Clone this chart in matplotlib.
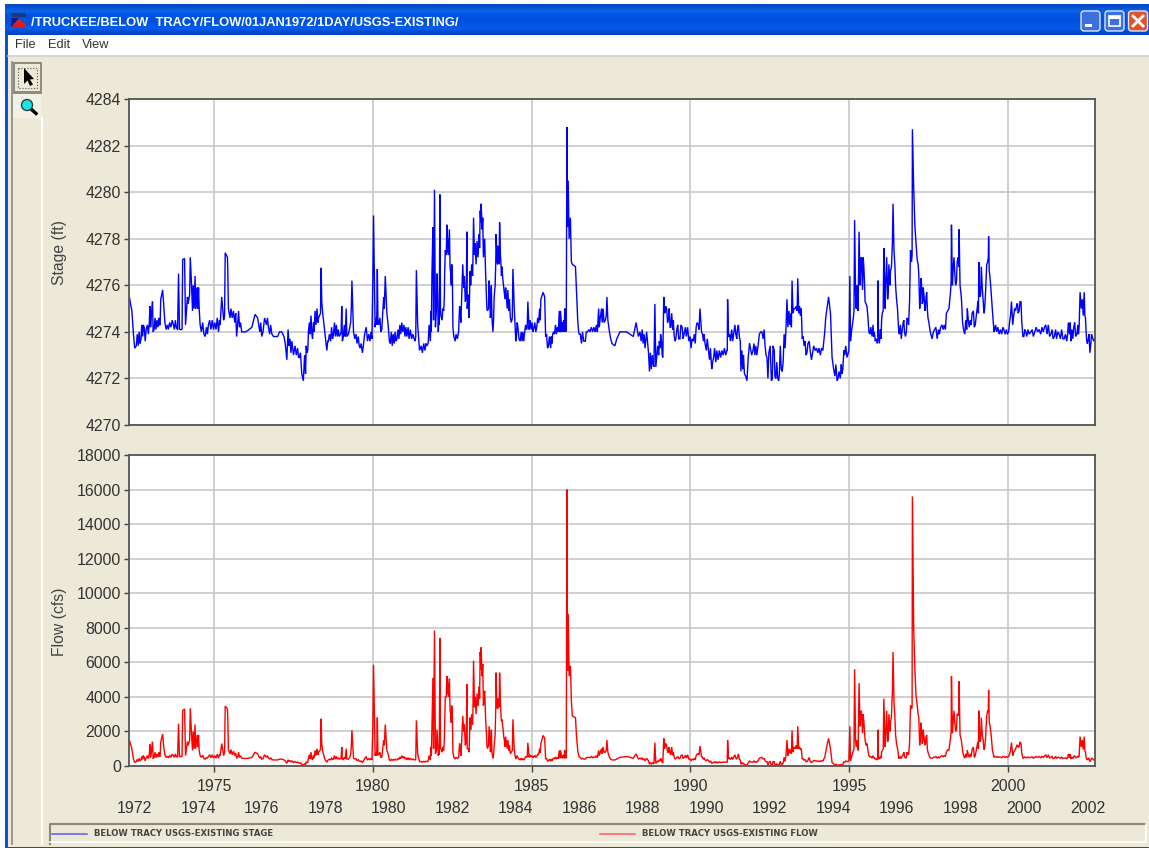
import matplotlib
matplotlib.use('Agg')
import matplotlib.pyplot as plt
import numpy as np
from matplotlib.patches import Rectangle, Circle, FancyBboxPatch, Polygon

plt.rcParams['font.family'] = ['Liberation Sans', 'DejaVu Sans']

title = '/TRUCKEE/BELOW  TRACY/FLOW/01JAN1972/1DAY/USGS-EXISTING/'
menu_items = ['File', 'Edit', 'View']
stage_name = 'BELOW TRACY USGS-EXISTING STAGE'
flow_name = 'BELOW TRACY USGS-EXISTING FLOW'

stage_ticks = [4270, 4272, 4274, 4276, 4278, 4280, 4282, 4284]
flow_ticks = [0, 2000, 4000, 6000, 8000, 10000, 12000, 14000, 16000, 18000]
five_years = [1975, 1980, 1985, 1990, 1995, 2000]
two_years = [1972, 1974, 1976, 1978, 1980, 1982, 1984, 1986, 1988, 1990,
             1992, 1994, 1996, 1998, 2000, 2002]

# one row = same dates in all three lists
years = [
    1972.33, 1972.41, 1972.46, 1972.50, 1972.67, 1972.77, 1972.83, 1972.98, 1973.00, 1973.06,
    1973.11, 1973.30, 1973.32, 1973.38, 1973.42, 1973.49, 1973.72, 1973.88, 1973.91, 1974.01,
    1974.07, 1974.10, 1974.16, 1974.25, 1974.29, 1974.32, 1974.40, 1974.45, 1974.51, 1974.56,
    1974.72, 1974.82, 1975.19, 1975.24, 1975.35, 1975.42, 1975.43, 1975.45, 1975.61, 1975.71,
    1975.77, 1975.87, 1976.19, 1976.29, 1976.37, 1976.50, 1976.59, 1976.71, 1976.87, 1977.13,
    1977.24, 1977.29, 1977.39, 1977.50, 1977.69, 1977.76, 1977.81, 1977.92, 1977.97, 1978.05,
    1978.10, 1978.18, 1978.29, 1978.37, 1978.42, 1978.55, 1978.60, 1978.76, 1979.02, 1979.04,
    1979.23, 1979.34, 1979.39, 1979.60, 1979.67, 1979.79, 1979.83, 1979.97, 1980.00, 1980.02,
    1980.07, 1980.14, 1980.18, 1980.28, 1980.39, 1980.44, 1980.55, 1980.76, 1980.91, 1981.07,
    1981.33, 1981.37, 1981.41, 1981.47, 1981.70, 1981.77, 1981.81, 1981.86, 1981.89, 1981.91,
    1981.94, 1981.97, 1982.02, 1982.06, 1982.11, 1982.14, 1982.23, 1982.28, 1982.33, 1982.36,
    1982.41, 1982.45, 1982.48, 1982.52, 1982.59, 1982.70, 1982.73, 1982.77, 1982.83, 1982.86,
    1982.96, 1983.01, 1983.03, 1983.06, 1983.17, 1983.20, 1983.33, 1983.38, 1983.41, 1983.46,
    1983.48, 1983.52, 1983.55, 1983.61, 1983.66, 1983.70, 1983.73, 1983.78, 1983.82, 1983.88,
    1983.91, 1983.94, 1983.99, 1984.03, 1984.06, 1984.12, 1984.20, 1984.28, 1984.33, 1984.41,
    1984.45, 1984.52, 1984.56, 1984.64, 1984.75, 1984.88, 1984.92, 1985.06, 1985.22, 1985.29,
    1985.36, 1985.41, 1985.44, 1985.53, 1985.64, 1985.69, 1985.90, 1985.91, 1985.95, 1986.03,
    1986.04, 1986.07, 1986.11, 1986.13, 1986.15, 1986.18, 1986.22, 1986.25, 1986.28, 1986.38,
    1986.41, 1986.45, 1986.53, 1986.69, 1986.76, 1987.00, 1987.11, 1987.16, 1987.25, 1987.32,
    1987.37, 1987.45, 1987.53, 1987.62, 1987.68, 1987.78, 1987.99, 1988.20, 1988.29, 1988.36,
    1988.41, 1988.57, 1988.62, 1988.68, 1988.71, 1988.83, 1988.88, 1988.91, 1988.97, 1989.05,
    1989.06, 1989.13, 1989.16, 1989.25, 1989.31, 1989.36, 1989.41, 1989.52, 1989.57, 1989.67,
    1989.74, 1989.80, 1989.91, 1989.99, 1990.02, 1990.09, 1990.18, 1990.25, 1990.30, 1990.35,
    1990.46, 1990.57, 1990.67, 1990.73, 1990.99, 1991.15, 1991.17, 1991.20, 1991.36, 1991.40,
    1991.46, 1991.51, 1991.57, 1991.59, 1991.70, 1991.78, 1991.86, 1991.93, 1992.09, 1992.17,
    1992.25, 1992.35, 1992.41, 1992.44, 1992.51, 1992.55, 1992.64, 1992.69, 1992.78, 1992.83,
    1992.89, 1992.95, 1993.04, 1993.07, 1993.20, 1993.23, 1993.30, 1993.38, 1993.41, 1993.49,
    1993.52, 1993.67, 1993.74, 1993.81, 1993.93, 1994.09, 1994.20, 1994.30, 1994.35, 1994.41,
    1994.46, 1994.51, 1994.62, 1994.77, 1994.83, 1994.93, 1994.99, 1995.02, 1995.04, 1995.10,
    1995.17, 1995.22, 1995.25, 1995.28, 1995.31, 1995.34, 1995.38, 1995.42, 1995.46, 1995.50,
    1995.56, 1995.62, 1995.72, 1995.79, 1995.88, 1995.91, 1995.95, 1996.04, 1996.09, 1996.13,
    1996.18, 1996.21, 1996.25, 1996.28, 1996.33, 1996.38, 1996.41, 1996.46, 1996.52, 1996.56,
    1996.67, 1996.72, 1996.77, 1996.85, 1996.90, 1996.93, 1996.96, 1996.99, 1997.03, 1997.07,
    1997.10, 1997.14, 1997.19, 1997.22, 1997.26, 1997.30, 1997.33, 1997.38, 1997.42, 1997.48,
    1997.54, 1997.61, 1997.69, 1997.77, 1997.88, 1998.03, 1998.06, 1998.14, 1998.19, 1998.22,
    1998.25, 1998.30, 1998.35, 1998.40, 1998.46, 1998.49, 1998.53, 1998.57, 1998.64, 1998.72,
    1998.78, 1998.84, 1998.91, 1998.97, 1999.03, 1999.08, 1999.12, 1999.16, 1999.22, 1999.26,
    1999.33, 1999.39, 1999.43, 1999.47, 1999.51, 1999.56, 1999.61, 1999.72, 1999.87, 1999.98,
    2000.05, 2000.11, 2000.15, 2000.21, 2000.28, 2000.32, 2000.38, 2000.43, 2000.47, 2000.56,
    2000.72, 2000.80, 2000.98, 2001.11, 2001.19, 2001.35, 2001.46, 2001.61, 2001.77, 2001.90,
    2001.98, 2002.10, 2002.17, 2002.24, 2002.27, 2002.31, 2002.34, 2002.40, 2002.44, 2002.48,
    2002.53, 2002.58, 2002.65, 2002.77,
]
stage_ft = [
    4275.5, 4274.9, 4273.9, 4273.3, 4273.5, 4274.3, 4273.6, 4275.1, 4274.2, 4275.3,
    4274.1, 4274.3, 4275.4, 4275.8, 4275.0, 4274.1, 4274.3, 4276.5, 4274.1, 4277.1,
    4277.15, 4274.3, 4275.5, 4277.2, 4276.0, 4274.9, 4276.4, 4275.4, 4275.9, 4274.3,
    4273.8, 4274.3, 4274.3, 4275.5, 4277.4, 4277.2, 4276.7, 4275.0, 4274.9, 4273.8,
    4274.9, 4274.0, 4274.2, 4274.75, 4274.6, 4273.8, 4274.6, 4274.2, 4273.8, 4274.0,
    4273.5, 4272.8, 4273.7, 4273.0, 4272.9, 4272.2, 4271.9, 4273.1, 4274.0, 4274.7,
    4273.7, 4274.9, 4274.6, 4276.75, 4274.8, 4273.2, 4273.6, 4273.9, 4275.1, 4273.6,
    4273.9, 4276.2, 4274.0, 4273.3, 4273.1, 4274.2, 4273.6, 4273.7, 4276.5, 4279.0,
    4274.2, 4276.7, 4274.3, 4274.1, 4276.4, 4274.8, 4273.5, 4273.7, 4274.4, 4273.8,
    4273.6, 4276.65, 4274.3, 4273.2, 4273.4, 4274.3, 4273.6, 4276.5, 4278.5, 4274.5,
    4280.1, 4274.2, 4276.5, 4274.0, 4279.9, 4274.7, 4274.9, 4277.5, 4278.6, 4278.0,
    4278.4, 4276.5, 4276.9, 4274.2, 4273.6, 4274.0, 4275.1, 4274.4, 4276.9, 4275.9,
    4278.3, 4275.6, 4274.6, 4276.6, 4278.9, 4277.3, 4277.8, 4279.2, 4279.5, 4278.9,
    4277.2, 4278.0, 4276.5, 4274.9, 4276.2, 4274.6, 4276.0, 4274.0, 4275.5, 4278.2,
    4277.0, 4277.7, 4278.7, 4277.0, 4276.8, 4275.9, 4275.6, 4274.9, 4274.6, 4276.7,
    4275.1, 4273.8, 4274.3, 4273.6, 4273.6, 4275.3, 4274.1, 4274.1, 4274.4, 4275.4,
    4275.7, 4275.5, 4273.8, 4273.4, 4273.5, 4274.0, 4274.0, 4274.9, 4274.0, 4274.0,
    4275.0, 4274.0, 4282.8, 4278.5, 4280.5, 4278.0, 4278.9, 4277.0, 4276.9, 4276.8,
    4275.8, 4274.5, 4273.9, 4273.6, 4274.0, 4274.0, 4275.0, 4274.6, 4275.0, 4274.5,
    4275.5, 4274.0, 4273.5, 4273.4, 4273.7, 4274.0, 4274.0, 4273.8, 4274.4, 4273.8,
    4274.0, 4273.3, 4274.0, 4273.1, 4272.3, 4272.6, 4275.2, 4272.5, 4273.4, 4273.3,
    4273.9, 4272.9, 4275.5, 4275.0, 4274.6, 4274.2, 4274.8, 4273.6, 4274.1, 4273.7,
    4274.2, 4273.9, 4274.2, 4273.8, 4273.3, 4273.6, 4274.2, 4274.3, 4275.0, 4274.0,
    4273.5, 4273.2, 4272.4, 4272.9, 4273.2, 4273.2, 4275.4, 4273.8, 4273.9, 4274.3,
    4273.7, 4274.3, 4273.6, 4272.3, 4272.2, 4271.9, 4273.5, 4273.0, 4273.0, 4273.9,
    4274.0, 4273.4, 4272.9, 4272.0, 4273.4, 4271.9, 4273.2, 4272.0, 4271.9, 4273.4,
    4272.3, 4273.9, 4275.4, 4274.2, 4276.2, 4274.8, 4275.0, 4276.3, 4274.8, 4275.0,
    4273.7, 4273.1, 4273.6, 4272.8, 4273.2, 4273.0, 4273.6, 4275.0, 4275.5, 4274.8,
    4272.9, 4272.4, 4271.9, 4272.2, 4273.2, 4272.9, 4273.2, 4276.4, 4273.6, 4274.3,
    4278.8, 4275.0, 4276.0, 4274.9, 4278.3, 4276.0, 4277.2, 4275.8, 4276.8, 4275.3,
    4275.1, 4274.0, 4273.8, 4274.0, 4273.5, 4276.2, 4273.5, 4274.8, 4277.6, 4275.0,
    4277.2, 4275.4, 4276.9, 4276.0, 4276.8, 4279.5, 4277.5, 4276.0, 4275.0, 4274.0,
    4274.1, 4274.5, 4273.8, 4274.5, 4275.3, 4277.5, 4277.0, 4282.7, 4280.2, 4278.5,
    4277.9, 4277.1, 4276.5, 4275.0, 4276.3, 4275.2, 4275.9, 4274.9, 4275.5, 4274.6,
    4274.1, 4273.7, 4274.1, 4273.7, 4274.2, 4274.1, 4274.8, 4275.0, 4275.7, 4278.6,
    4276.0, 4277.2, 4276.0, 4277.0, 4278.4, 4276.0, 4275.5, 4274.4, 4273.9, 4275.0,
    4274.2, 4274.3, 4274.9, 4274.3, 4275.0, 4277.0, 4275.5, 4276.8, 4275.3, 4274.9,
    4276.9, 4278.1, 4276.4, 4275.7, 4274.9, 4274.0, 4274.3, 4273.9, 4274.1, 4273.9,
    4274.4, 4275.3, 4274.3, 4275.0, 4275.2, 4274.8, 4275.3, 4274.5, 4273.8, 4274.0,
    4274.0, 4273.8, 4274.1, 4274.0, 4274.3, 4273.9, 4273.8, 4273.9, 4273.7, 4274.4,
    4273.6, 4274.4, 4273.9, 4274.2, 4275.7, 4275.0, 4275.4, 4275.7, 4274.6, 4273.6,
    4273.7, 4273.1, 4273.8, 4273.8,
]
flow_cfs = [
    1500, 1000, 400, 220, 300, 600, 300, 1250, 500, 1400,
    500, 550, 1400, 1850, 1000, 500, 600, 2450, 550, 3200,
    3300, 600, 1400, 3340, 1800, 900, 2400, 1500, 1800, 600,
    400, 550, 600, 1300, 3470, 3300, 2800, 950, 850, 450,
    800, 450, 500, 800, 700, 400, 650, 450, 350, 400,
    300, 150, 320, 200, 170, 100, 60, 200, 450, 800,
    350, 900, 800, 2735, 850, 220, 350, 400, 1100, 350,
    400, 2075, 450, 250, 200, 550, 350, 350, 2500, 5860,
    600, 2800, 650, 500, 2400, 900, 300, 350, 600, 350,
    350, 2640, 700, 250, 250, 600, 350, 2200, 5100, 1000,
    7840, 700, 2100, 600, 7400, 1000, 900, 4000, 5200, 4800,
    5050, 3000, 3500, 800, 400, 500, 1300, 600, 2900, 2000,
    4730, 1000, 800, 2800, 6100, 3400, 4000, 6600, 6870, 5900,
    3500, 4350, 2700, 1000, 2300, 800, 2100, 450, 1200, 5400,
    3400, 3900, 5400, 3100, 2700, 1700, 1400, 900, 700, 2700,
    1000, 500, 500, 350, 350, 1340, 500, 500, 650, 1300,
    1770, 1600, 400, 300, 300, 450, 500, 900, 450, 450,
    900, 450, 16000, 5500, 8800, 5200, 5800, 3800, 2900, 2800,
    1800, 900, 500, 400, 500, 500, 900, 800, 1100, 800,
    1500, 500, 350, 350, 400, 500, 550, 450, 700, 400,
    450, 300, 450, 300, 100, 150, 1350, 150, 300, 300,
    450, 200, 1600, 1200, 800, 700, 1100, 400, 500, 450,
    650, 500, 650, 400, 300, 350, 600, 700, 1150, 550,
    350, 300, 150, 200, 220, 220, 1500, 400, 500, 650,
    400, 700, 350, 100, 80, 50, 300, 220, 220, 450,
    500, 300, 250, 60, 280, 50, 250, 50, 50, 280,
    100, 500, 1500, 600, 2050, 800, 1000, 2300, 1000, 1000,
    400, 250, 500, 200, 300, 250, 400, 1200, 1600, 1000,
    200, 120, 40, 60, 250, 250, 300, 2300, 300, 700,
    5600, 1100, 1500, 900, 4800, 2300, 3200, 1900, 2600, 1500,
    1300, 600, 450, 500, 350, 2100, 400, 900, 3900, 1100,
    3200, 1400, 3000, 2000, 2900, 6600, 3700, 1800, 1000, 450,
    600, 800, 450, 700, 1300, 3500, 3300, 15600, 8000, 5500,
    4200, 3500, 2800, 1200, 2500, 1300, 2100, 1200, 1700, 800,
    500, 450, 500, 450, 550, 550, 800, 900, 1600, 5200,
    1900, 3200, 2000, 3000, 4900, 1800, 1500, 900, 450, 900,
    500, 550, 1100, 600, 1200, 3200, 1400, 2800, 1500, 1000,
    2900, 4400, 2400, 1800, 900, 500, 550, 500, 550, 500,
    700, 1350, 600, 900, 1200, 1100, 1400, 800, 450, 500,
    500, 450, 550, 500, 650, 500, 450, 500, 450, 700,
    400, 600, 500, 550, 1700, 1100, 1500, 1700, 800, 400,
    450, 250, 450, 450,
]

# second pass over the picture: the day to day wiggle between the points above
wiggle_years = [
    1972.55, 1972.58, 1972.61, 1972.64, 1972.70, 1972.72, 1972.75, 1972.80, 1972.86, 1972.90,
    1972.93, 1972.96, 1973.03, 1973.08, 1973.14, 1973.17, 1973.20, 1973.23, 1973.26, 1973.28,
    1973.45, 1973.53, 1973.56, 1973.60, 1973.64, 1973.68, 1973.75, 1973.78, 1973.81, 1973.85,
    1973.99, 1974.18, 1974.23, 1974.34, 1974.37, 1974.42, 1974.47, 1974.49, 1974.53, 1974.60,
    1974.64, 1974.68, 1974.76, 1974.79, 1974.86, 1974.90, 1974.94, 1974.98, 1975.02, 1975.06,
    1975.10, 1975.14, 1975.17, 1975.30, 1975.33, 1975.50, 1975.53, 1975.57, 1975.65, 1975.68,
    1975.74, 1975.80, 1975.83, 1976.00, 1976.10, 1976.44, 1976.47, 1976.54, 1976.65, 1976.68,
    1976.75, 1976.78, 1976.82, 1977.00, 1977.06, 1977.20, 1977.33, 1977.36, 1977.42, 1977.45,
    1977.55, 1977.59, 1977.63, 1977.66, 1977.72, 1977.85, 1977.88, 1977.90, 1977.95, 1978.00,
    1978.02, 1978.08, 1978.13, 1978.15, 1978.21, 1978.24, 1978.27, 1978.35, 1978.39, 1978.47,
    1978.50, 1978.58, 1978.63, 1978.67, 1978.70, 1978.73, 1978.79, 1978.82, 1978.85, 1978.88,
    1978.91, 1978.94, 1978.98, 1979.00, 1979.07, 1979.10, 1979.13, 1979.16, 1979.18, 1979.27,
    1979.30, 1979.32, 1979.43, 1979.47, 1979.50, 1979.54, 1979.57, 1979.63, 1979.70, 1979.74,
    1979.87, 1979.91, 1979.94, 1980.10, 1980.12, 1980.16, 1980.22, 1980.25, 1980.31, 1980.34,
    1980.36, 1980.48, 1980.52, 1980.58, 1980.61, 1980.64, 1980.67, 1980.70, 1980.73, 1980.79,
    1980.82, 1980.85, 1980.88, 1980.94, 1980.98, 1981.01, 1981.04, 1981.11, 1981.14, 1981.18,
    1981.22, 1981.26, 1981.30, 1981.35, 1981.52, 1981.56, 1981.60, 1981.64, 1981.67, 1981.74,
    1981.83, 1981.84, 1982.00, 1982.04, 1982.08, 1982.09, 1982.13, 1982.18, 1982.20, 1982.25,
    1982.26, 1982.31, 1982.35, 1982.38, 1982.43, 1982.47, 1982.50, 1982.55, 1982.62, 1982.66,
    1982.75, 1982.79, 1982.81, 1982.88, 1982.91, 1982.94, 1982.97, 1983.08, 1983.11, 1983.14,
    1983.15, 1983.22, 1983.25, 1983.28, 1983.31, 1983.35, 1983.36, 1983.40, 1983.44, 1983.50,
    1983.58, 1983.59, 1983.64, 1983.68, 1983.72, 1983.75, 1983.80, 1983.85, 1983.87, 1983.90,
    1983.93, 1983.96, 1983.98, 1984.01, 1984.05, 1984.09, 1984.14, 1984.16, 1984.18, 1984.23,
    1984.25, 1984.30, 1984.36, 1984.39, 1984.48, 1984.50, 1984.54, 1984.60, 1984.67, 1984.70,
    1984.72, 1984.78, 1984.81, 1984.84, 1984.86, 1984.95, 1984.98, 1985.01, 1985.04, 1985.10,
    1985.13, 1985.16, 1985.19, 1985.25, 1985.27, 1985.47, 1985.50, 1985.56, 1985.60, 1985.62,
    1985.66, 1985.72, 1985.75, 1985.78, 1985.81, 1985.84, 1985.87, 1985.89, 1985.97, 1985.99,
    1986.01, 1986.09, 1986.48, 1986.50, 1986.57, 1986.60, 1986.64, 1986.72, 1986.80, 1986.84,
    1986.88, 1986.92, 1986.96, 1987.04, 1987.07, 1987.13, 1987.20, 1987.22, 1987.28, 1987.35,
    1987.40, 1987.49, 1988.45, 1988.48, 1988.51, 1988.54, 1988.74, 1988.77, 1988.80, 1988.85,
    1989.00, 1989.02, 1989.09, 1989.11, 1989.19, 1989.22, 1989.28, 1989.33, 1989.38, 1989.44,
    1989.46, 1989.49, 1989.54, 1989.60, 1989.63, 1989.70, 1989.77, 1989.84, 1989.87, 1989.95,
    1990.05, 1990.12, 1990.15, 1990.21, 1990.27, 1990.32, 1990.38, 1990.41, 1990.43, 1990.50,
    1990.53, 1990.60, 1990.63, 1990.70, 1990.76, 1990.80, 1990.83, 1990.87, 1990.91, 1990.95,
    1991.03, 1991.07, 1991.11, 1991.16, 1991.23, 1991.26, 1991.30, 1991.33, 1991.43, 1991.48,
    1991.54, 1991.62, 1991.65, 1991.67, 1991.74, 1991.82, 1991.89, 1991.97, 1992.00, 1992.03,
    1992.06, 1992.13, 1992.21, 1992.29, 1992.32, 1992.38, 1992.47, 1992.58, 1992.60, 1992.66,
    1992.72, 1992.75, 1992.80, 1992.86, 1992.92, 1992.98, 1993.01, 1993.10, 1993.13, 1993.16,
    1993.18, 1993.26, 1993.33, 1993.36, 1993.44, 1993.46, 1993.55, 1993.58, 1993.61, 1993.64,
    1993.70, 1993.77, 1993.85, 1993.88, 1993.97, 1994.01, 1994.05, 1994.13, 1994.17, 1994.23,
    1994.26, 1994.55, 1994.58, 1994.65, 1994.68, 1994.72, 1994.75, 1994.80, 1994.86, 1994.89,
    1995.07, 1995.13, 1995.15, 1995.20, 1995.24, 1995.36, 1995.40, 1995.44, 1995.48, 1995.53,
    1995.59, 1995.65, 1995.68, 1995.75, 1995.77, 1995.82, 1995.85, 1995.90, 1995.92, 1995.98,
    1996.00, 1996.02, 1996.07, 1996.11, 1996.15, 1996.23, 1996.30, 1996.36, 1996.44, 1996.49,
    1996.54, 1996.58, 1996.61, 1996.64, 1996.70, 1996.74, 1996.80, 1996.82, 1996.87, 1996.98,
    1997.17, 1997.21, 1997.24, 1997.28, 1997.32, 1997.36, 1997.40, 1997.44, 1997.46, 1997.51,
    1997.57, 1997.65, 1997.73, 1997.81, 1997.84, 1997.92, 1997.96, 1997.99, 1998.10, 1998.17,
    1998.21, 1998.27, 1998.33, 1998.38, 1998.43, 1998.45, 1998.55, 1998.60, 1998.67, 1998.70,
    1998.75, 1998.81, 1998.87, 1998.94, 1999.01, 1999.05, 1999.07, 1999.10, 1999.14, 1999.19,
    1999.24, 1999.29, 1999.36, 1999.38, 1999.41, 1999.58, 1999.64, 1999.68, 1999.76, 1999.80,
    1999.84, 1999.91, 1999.95, 2000.02, 2000.08, 2000.13, 2000.18, 2000.24, 2000.30, 2000.35,
    2000.41, 2000.50, 2000.53, 2000.59, 2000.63, 2000.67, 2000.76, 2000.84, 2000.89, 2000.93,
    2001.03, 2001.07, 2001.15, 2001.23, 2001.27, 2001.31, 2001.39, 2001.42, 2001.50, 2001.53,
    2001.57, 2001.65, 2001.69, 2001.73, 2001.81, 2001.85, 2001.88, 2001.94, 2001.96, 2002.01,
    2002.04, 2002.07, 2002.13, 2002.20, 2002.22, 2002.37, 2002.42, 2002.46, 2002.50, 2002.55,
    2002.61, 2002.63, 2002.70,
]
wiggle_stage = [
    4273.4, 4273.9, 4273.4, 4274.0, 4273.7, 4274.3, 4273.8, 4274.2, 4274.1, 4274.3,
    4273.9, 4274.4, 4274.8, 4274.0, 4274.6, 4274.1, 4274.5, 4274.2, 4274.6, 4274.3,
    4274.4, 4274.3, 4274.1, 4274.4, 4274.2, 4274.5, 4274.1, 4274.5, 4274.2, 4274.1,
    4274.1, 4275.2, 4275.6, 4276.0, 4275.0, 4275.0, 4275.9, 4275.0, 4275.0, 4274.0,
    4274.4, 4273.9, 4274.2, 4273.9, 4274.5, 4274.1, 4274.5, 4274.1, 4274.4, 4274.1,
    4274.6, 4274.0, 4274.5, 4274.5, 4274.7, 4274.6, 4275.0, 4274.6, 4274.4, 4274.8,
    4274.3, 4274.2, 4274.4, 4274.0, 4274.1, 4274.0, 4274.4, 4274.0, 4274.3, 4274.6,
    4273.9, 4274.3, 4273.9, 4273.8, 4274.0, 4273.8, 4274.1, 4273.4, 4273.1, 4273.6,
    4273.4, 4273.0, 4273.3, 4272.9, 4273.1, 4273.0, 4272.2, 4273.4, 4273.2, 4274.4,
    4273.9, 4273.9, 4274.4, 4274.0, 4274.3, 4275.0, 4274.4, 4274.8, 4275.3, 4274.2,
    4273.8, 4273.6, 4273.9, 4273.6, 4274.2, 4273.7, 4274.4, 4273.8, 4274.3, 4273.8,
    4274.1, 4273.8, 4273.9, 4274.0, 4273.8, 4274.3, 4273.8, 4275.0, 4273.8, 4274.2,
    4274.4, 4275.0, 4273.7, 4273.9, 4273.5, 4273.8, 4273.4, 4273.5, 4273.4, 4273.9,
    4273.9, 4273.6, 4274.0, 4274.6, 4274.3, 4274.4, 4274.6, 4274.0, 4274.8, 4275.5,
    4275.0, 4274.3, 4273.6, 4274.0, 4273.4, 4273.9, 4273.5, 4274.0, 4273.6, 4274.1,
    4273.7, 4274.3, 4273.9, 4274.0, 4274.3, 4273.8, 4274.2, 4274.2, 4273.7, 4274.1,
    4273.7, 4273.9, 4273.7, 4273.8, 4273.4, 4273.1, 4273.5, 4273.2, 4273.5, 4273.5,
    4274.9, 4274.0, 4275.0, 4275.5, 4274.8, 4274.3, 4275.0, 4274.5, 4275.0, 4275.5,
    4276.5, 4277.3, 4277.4, 4277.3, 4276.8, 4276.0, 4276.8, 4273.8, 4273.9, 4273.7,
    4274.8, 4275.2, 4276.0, 4276.4, 4275.3, 4275.5, 4275.0, 4276.0, 4276.9, 4276.4,
    4277.0, 4277.8, 4276.9, 4277.9, 4277.2, 4278.2, 4277.6, 4278.7, 4278.4, 4277.6,
    4275.4, 4275.0, 4275.0, 4275.5, 4275.0, 4274.6, 4274.5, 4276.0, 4277.0, 4277.5,
    4276.9, 4277.3, 4276.9, 4277.5, 4276.4, 4276.3, 4275.6, 4275.4, 4275.9, 4275.0,
    4275.8, 4275.4, 4274.4, 4274.6, 4274.2, 4273.6, 4274.4, 4273.7, 4274.0, 4273.6,
    4274.0, 4274.0, 4274.3, 4274.1, 4274.2, 4274.5, 4274.1, 4274.4, 4274.0, 4274.4,
    4274.0, 4274.2, 4274.6, 4275.0, 4274.5, 4273.9, 4273.3, 4273.8, 4273.3, 4273.8,
    4273.9, 4273.9, 4274.3, 4273.9, 4274.2, 4274.0, 4274.9, 4274.0, 4274.4, 4274.0,
    4274.5, 4274.1, 4274.0, 4273.9, 4273.5, 4274.0, 4273.6, 4274.0, 4274.1, 4274.0,
    4274.2, 4274.0, 4274.2, 4274.3, 4274.0, 4274.2, 4275.0, 4274.4, 4274.4, 4274.7,
    4274.5, 4273.7, 4273.6, 4274.1, 4273.5, 4273.9, 4273.1, 4272.4, 4273.0, 4272.5,
    4273.0, 4273.6, 4273.6, 4273.0, 4274.8, 4275.1, 4274.4, 4275.0, 4274.2, 4274.1,
    4274.5, 4273.8, 4273.7, 4274.3, 4273.7, 4274.3, 4273.7, 4274.2, 4273.8, 4273.6,
    4273.7, 4273.9, 4273.5, 4274.4, 4274.1, 4274.6, 4273.9, 4273.6, 4273.9, 4273.2,
    4273.7, 4272.8, 4273.3, 4272.7, 4273.3, 4272.7, 4273.2, 4272.8, 4273.2, 4272.9,
    4273.0, 4273.3, 4273.0, 4273.2, 4273.9, 4273.6, 4274.1, 4273.6, 4273.9, 4274.1,
    4273.8, 4273.2, 4272.4, 4273.0, 4272.1, 4272.9, 4273.3, 4273.2, 4273.5, 4273.0,
    4273.4, 4273.4, 4274.0, 4273.7, 4274.1, 4273.0, 4273.1, 4272.0, 4273.4, 4272.1,
    4272.7, 4272.0, 4272.2, 4272.4, 4272.7, 4273.3, 4274.2, 4274.9, 4274.3, 4274.8,
    4274.2, 4275.0, 4275.1, 4274.9, 4275.1, 4274.7, 4273.8, 4273.4, 4273.6, 4273.0,
    4273.5, 4273.2, 4273.1, 4273.4, 4273.3, 4273.1, 4273.3, 4273.3, 4273.2, 4274.0,
    4274.6, 4272.1, 4272.6, 4272.0, 4272.3, 4272.0, 4272.6, 4272.4, 4273.0, 4273.4,
    4274.0, 4274.6, 4274.9, 4275.6, 4275.8, 4277.0, 4276.5, 4277.2, 4276.2, 4275.2,
    4274.6, 4273.9, 4274.2, 4274.3, 4273.8, 4273.6, 4273.7, 4273.7, 4273.9, 4274.1,
    4273.7, 4274.5, 4274.9, 4276.5, 4276.0, 4275.8, 4276.6, 4277.8, 4276.8, 4275.4,
    4274.5, 4273.9, 4274.3, 4273.7, 4274.4, 4274.0, 4274.0, 4274.6, 4274.3, 4277.3,
    4276.9, 4275.6, 4275.5, 4276.0, 4275.3, 4275.5, 4275.0, 4275.7, 4275.0, 4274.4,
    4273.9, 4274.0, 4274.2, 4274.1, 4273.9, 4274.3, 4274.1, 4274.3, 4274.9, 4275.4,
    4276.2, 4276.6, 4276.4, 4276.2, 4277.2, 4276.8, 4275.0, 4274.1, 4274.5, 4274.1,
    4274.5, 4274.5, 4274.8, 4274.2, 4274.8, 4275.3, 4274.8, 4275.9, 4275.6, 4275.9,
    4274.8, 4275.6, 4277.0, 4277.2, 4276.6, 4274.1, 4274.0, 4274.2, 4274.1, 4273.9,
    4274.2, 4273.9, 4274.1, 4274.0, 4274.7, 4274.8, 4274.7, 4274.9, 4275.2, 4274.9,
    4275.3, 4273.8, 4274.1, 4273.8, 4274.1, 4273.9, 4274.1, 4274.0, 4274.2, 4274.0,
    4273.9, 4274.2, 4274.2, 4273.9, 4274.3, 4273.8, 4274.1, 4273.7, 4274.1, 4273.7,
    4274.0, 4273.7, 4274.1, 4273.7, 4273.9, 4273.6, 4273.9, 4273.9, 4274.4, 4274.1,
    4273.7, 4274.2, 4273.8, 4274.3, 4273.9, 4274.7, 4274.7, 4274.0, 4273.5, 4273.9,
    4273.5, 4273.9, 4273.6,
]
wiggle_flow = [
    250, 380, 260, 450, 350, 550, 380, 500, 480, 600,
    420, 700, 900, 420, 800, 480, 700, 520, 800, 560,
    650, 560, 460, 620, 500, 680, 500, 700, 540, 520,
    550, 1200, 1500, 2000, 1000, 1000, 1800, 1100, 900, 500,
    620, 420, 500, 450, 650, 480, 650, 460, 600, 450,
    680, 450, 650, 600, 800, 700, 950, 650, 600, 750,
    500, 500, 600, 430, 450, 450, 550, 420, 500, 600,
    400, 480, 370, 350, 400, 350, 360, 260, 220, 300,
    260, 200, 230, 180, 190, 120, 90, 240, 220, 650,
    420, 420, 600, 450, 600, 1000, 650, 950, 1300, 500,
    350, 330, 400, 350, 480, 370, 600, 400, 550, 400,
    480, 400, 420, 450, 400, 500, 400, 1000, 400, 500,
    650, 1100, 400, 420, 300, 380, 280, 300, 280, 420,
    420, 350, 450, 800, 600, 650, 800, 500, 1000, 1500,
    1200, 700, 350, 400, 320, 380, 330, 400, 350, 450,
    380, 520, 420, 480, 550, 400, 480, 480, 350, 450,
    360, 400, 360, 400, 260, 220, 270, 230, 280, 280,
    1100, 600, 900, 1400, 900, 650, 1100, 800, 1100, 1500,
    2500, 4000, 4200, 4000, 3200, 2500, 3300, 500, 500, 430,
    1000, 1200, 2000, 2400, 1200, 1400, 1000, 2100, 3000, 2400,
    3000, 4000, 3000, 4200, 3500, 4600, 3900, 5600, 5200, 4000,
    1800, 1200, 1200, 1500, 1000, 800, 650, 1800, 3400, 3800,
    3300, 3600, 3400, 4000, 2600, 2300, 1500, 1100, 1700, 1000,
    1500, 1200, 800, 900, 600, 400, 600, 400, 450, 350,
    430, 420, 550, 520, 530, 650, 520, 600, 500, 620,
    500, 560, 680, 1000, 750, 450, 280, 400, 280, 400,
    400, 400, 520, 400, 500, 430, 900, 450, 600, 450,
    650, 500, 600, 520, 400, 450, 400, 480, 500, 480,
    550, 480, 530, 600, 480, 600, 1000, 700, 800, 900,
    800, 400, 400, 480, 350, 420, 200, 100, 180, 120,
    230, 350, 350, 200, 1000, 1300, 800, 1100, 650, 620,
    800, 500, 420, 550, 420, 600, 430, 620, 450, 400,
    400, 450, 350, 700, 650, 900, 500, 380, 480, 300,
    380, 220, 300, 180, 260, 170, 240, 180, 240, 200,
    210, 240, 210, 240, 480, 380, 520, 380, 450, 500,
    400, 200, 110, 170, 70, 170, 240, 220, 300, 210,
    260, 300, 480, 400, 450, 250, 200, 60, 250, 70,
    130, 60, 70, 100, 180, 260, 650, 1000, 750, 950,
    700, 1100, 1200, 1000, 1100, 950, 420, 330, 380, 250,
    330, 270, 250, 320, 300, 260, 290, 320, 280, 500,
    800, 60, 100, 45, 70, 50, 100, 90, 220, 300,
    500, 900, 1000, 1500, 1400, 3000, 2500, 3000, 2000, 1200,
    900, 520, 550, 600, 470, 400, 420, 400, 500, 550,
    450, 800, 1000, 2500, 1700, 1600, 2500, 4300, 2800, 1300,
    800, 450, 550, 430, 650, 550, 500, 800, 650, 3400,
    3000, 1800, 1700, 2000, 1500, 1600, 1300, 1800, 1000, 650,
    450, 500, 550, 520, 470, 600, 540, 600, 950, 1300,
    2000, 2500, 2400, 2200, 3000, 2900, 1200, 600, 700, 500,
    650, 700, 950, 500, 1000, 1400, 1000, 2200, 1500, 1800,
    950, 1500, 3200, 3100, 2500, 550, 500, 540, 520, 480,
    550, 490, 540, 550, 900, 1000, 800, 1000, 1200, 1100,
    1300, 470, 520, 470, 520, 480, 530, 500, 550, 500,
    480, 560, 580, 480, 650, 450, 560, 430, 560, 440,
    500, 440, 520, 430, 480, 410, 480, 480, 700, 520,
    430, 550, 470, 580, 500, 950, 900, 500, 350, 450,
    350, 450, 350,
]

# merge both readings in date order
all_years = np.array(years + wiggle_years)
all_stage = np.array(stage_ft + wiggle_stage)
all_flow = np.array(flow_cfs + wiggle_flow)
order = np.argsort(all_years, kind='stable')

W, H = 1149, 848
dpi = 100
BG = '#ECE9D8'
fig = plt.figure(figsize=(W / dpi, H / dpi), dpi=dpi, facecolor='white')

# window frame drawn in pixel coordinates
chrome = fig.add_axes([0, 0, 1, 1], zorder=0)
chrome.set_xlim(0, W)
chrome.set_ylim(H, 0)
chrome.axis('off')


def box(x, y, w, h, color, **kw):
    chrome.add_patch(Rectangle((x, y), w, h, facecolor=color, edgecolor='none', **kw))


box(4.5, 4.5, W - 4.5, H - 4.5, '#0A50DC')
box(8, 35, W - 8, H - 36.5, BG)
box(8, 35, W - 8, 21, 'white')
chrome.plot([8, W], [56, 56], color='#D4D0C8', lw=1.2)

grad = np.array([[0.02, 0.30, 0.80], [0.05, 0.38, 0.90], [0.00, 0.33, 0.89], [0.00, 0.31, 0.88],
                 [0.00, 0.33, 0.90], [0.02, 0.36, 0.92], [0.00, 0.27, 0.80]])
chrome.imshow(grad[:, None, :], extent=(4.5, W, 35, 4.5), aspect='auto', interpolation='bilinear', zorder=1)
chrome.set_xlim(0, W)
chrome.set_ylim(H, 0)
chrome.text(31, 22.5, title, color='white', fontsize=9.25, fontweight='bold', va='center', zorder=3)

# title bar icon
box(11, 13, 15, 4, '#1A3A7A', zorder=2)
chrome.add_patch(Polygon([(11, 27), (19, 18), (26, 25), (26, 27)], facecolor='#D81E1E', zorder=3))
chrome.add_patch(Polygon([(11, 27), (11, 18), (19, 18)], facecolor='#0A1A90', zorder=3))

# minimize, maximize, close
for bx, col in [(1080, '#3C6FE0'), (1104, '#3C6FE0'), (1127.5, '#E0532A')]:
    chrome.add_patch(FancyBboxPatch((bx + 1, 11), 19, 20, boxstyle='round,pad=0,rounding_size=3',
                                    facecolor=col, edgecolor='#DCE6FA', lw=1, zorder=3))
box(1085, 24, 7, 2.5, 'white', zorder=4)
chrome.add_patch(Rectangle((1109, 16), 11, 10, facecolor='none', edgecolor='white', lw=1.2, zorder=4))
box(1109, 16, 11, 2.5, 'white', zorder=4)
chrome.plot([1133, 1143], [16, 26], color='white', lw=2, zorder=4)
chrome.plot([1133, 1143], [26, 16], color='white', lw=2, zorder=4)

for label, mx in zip(menu_items, [15, 48, 82]):
    chrome.text(mx, 45.5, label, fontsize=9.2, color='#333333', va='center', zorder=3)

# tool strip on the left
chrome.plot([12, 12], [62, 844], color='#8A8878', lw=1.2)
chrome.plot([42, 42], [118, 844], color='white', lw=1.5)
box(13, 62, 29, 32, '#8F8D80', zorder=2)
box(15, 64, 25, 27, BG, zorder=2)
chrome.add_patch(Polygon([(24, 68), (24, 84), (27.5, 80.5), (30, 86), (33, 84.5), (30, 79.5), (34, 79)],
                         facecolor='black', zorder=3))
chrome.add_patch(Rectangle((18, 67.5), 19, 20, facecolor='none', edgecolor='#555555', ls=':', lw=0.8, zorder=3))
box(13, 94, 28, 24, '#F3F1E6', zorder=2)
chrome.plot([31, 36], [109, 113.5], color='black', lw=2.4, zorder=3)
chrome.add_patch(Circle((27, 105), 5.5, facecolor='#19E6E6', edgecolor='#224444', lw=1, zorder=4))

# legend strip
chrome.plot([50, 50, 1146], [844, 824, 824], color='#8A8878', lw=1.5)
chrome.plot([1146, 1146, 50], [824, 842, 842], color='white', lw=1.2)
chrome.plot([52, 87], [834, 834], color='#5A5AFF', lw=1.1)
chrome.text(94, 833, stage_name, fontsize=6.1, fontweight='bold', family='DejaVu Sans', color='#444444', va='center')
chrome.plot([600, 635], [834, 834], color='#FF5A5A', lw=1.1)
chrome.text(642, 833, flow_name, fontsize=6.1, fontweight='bold', family='DejaVu Sans', color='#444444', va='center')

# the two plots
left, right = 129, 1095
ax1 = fig.add_axes([left / W, 1 - 425 / H, (right - left) / W, (425 - 99) / H], zorder=2)
ax2 = fig.add_axes([left / W, 1 - 766 / H, (right - left) / W, (766 - 455) / H], zorder=2)

ax1.plot(all_years[order], all_stage[order], color='#0000FF', lw=1.0, solid_joinstyle='miter')
ax2.plot(all_years[order], all_flow[order], color='#FF0000', lw=1.0, solid_joinstyle='miter')

ax1.set_ylim(4270, 4284)
ax2.set_ylim(0, 18000)
ax1.set_yticks(stage_ticks)
ax2.set_yticks(flow_ticks)
ax1.set_ylabel('Stage (ft)', fontsize=11.3, color='#444444')
ax2.set_ylabel('Flow (cfs)', fontsize=11.3, color='#444444')
ax1.yaxis.set_label_coords(-0.064, 0.528)
ax2.yaxis.set_label_coords(-0.064, 0.463)

for ax in (ax1, ax2):
    ax.set_xlim(1972.32, 2002.74)
    ax.set_xticks(five_years)
    ax.grid(True, color='#C8C8C8', lw=1.2)
    ax.set_axisbelow(True)
    ax.tick_params(axis='y', length=3.6, width=1, color='#444444', labelsize=11.4,
                   labelcolor='#333333', pad=2.2)
    for s in ax.spines.values():
        s.set_color('#555555')
        s.set_linewidth(1.3)

ax1.tick_params(axis='x', length=0, labelbottom=False)
ax2.tick_params(axis='x', length=4.3, width=1, color='#444444', labelsize=11.4,
                labelcolor='#333333', pad=5)
# year labels of the second row sit in the middle of their year
ax2.set_xticks([y + 0.5 for y in two_years], [str(y) for y in two_years], minor=True)
ax2.tick_params(axis='x', which='minor', length=0, labelsize=11.4, labelcolor='#333333', pad=25)

fig.savefig('out.png', dpi=dpi, facecolor='white')
